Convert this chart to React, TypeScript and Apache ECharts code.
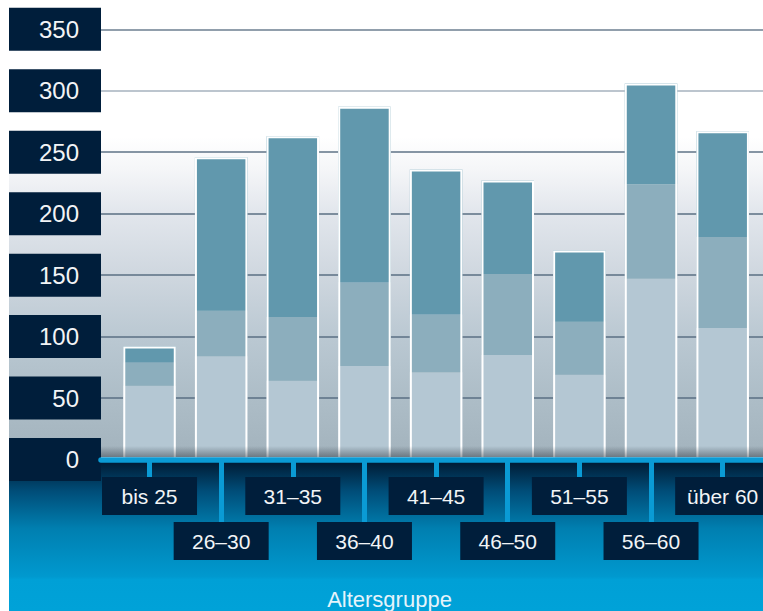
import React, { useEffect, useRef } from "react";
import * as echarts from "echarts";

// Age groups and the three stacked components per group
const categories = ["bis 25", "26–30", "31–35", "36–40", "41–45", "46–50", "51–55", "56–60", "über 60"];
const bottomValues = [60, 84, 64, 76, 71, 85, 69, 147, 107];
const middleValues = [19, 37, 52, 68, 47, 66, 43, 77, 74];
const topValues = [13, 125, 147, 143, 118, 76, 58, 82, 86];
const yTicks = [0, 50, 100, 150, 200, 250, 300, 350];
const axisTitle = "Altersgruppe";

const NAVY = "#001e3b";
const BLUE = "#0a9bd5";
const FONT = "Liberation Sans, Arial, sans-serif";

export default function App() {
  const ref = useRef<HTMLDivElement>(null);

  useEffect(() => {
    if (!ref.current) return;
    const chart = echarts.init(ref.current, undefined, { renderer: "svg" });

    const totals = categories.map((_, i) => bottomValues[i] + middleValues[i] + topValues[i]);
    const yMin = yTicks[0];
    const yMax = yTicks[yTicks.length - 1];
    const step = yTicks[1] - yTicks[0];

    const plotTop = 29.3;
    const plotBottom = 151.5;

    const labelBox = {
      color: "#f2f4f6",
      fontFamily: FONT,
      fontSize: 21,
      backgroundColor: NAVY,
      width: 95,
      height: 38,
      lineHeight: 38,
      align: "center" as const,
    };

    const tickStyle = { color: BLUE, width: 5 };

    const bar = (name: string, data: number[], color: string) => ({
      name,
      type: "bar",
      xAxisIndex: 1,
      yAxisIndex: 1,
      stack: "total",
      barWidth: 52.5,
      data,
      itemStyle: { color },
      z: 2,
    });

    chart.setOption({
      animation: false,
      graphic: [
        {
          type: "rect",
          z: -10,
          shape: { x: 9, y: 0, width: 754, height: 457 },
          style: {
            fill: new echarts.graphic.LinearGradient(0, 0, 0, 1, [
              { offset: 0, color: "#ffffff" },
              { offset: 0.3, color: "#ffffff" },
              { offset: 0.37, color: "#f5f6f8" },
              { offset: 0.46, color: "#e3e7ed" },
              { offset: 0.6, color: "#cfd7df" },
              { offset: 0.74, color: "#bac8d2" },
              { offset: 0.87, color: "#adbdc7" },
              { offset: 1, color: "#a3b3bd" },
            ]),
          },
        },
        {
          type: "rect",
          z: -10,
          shape: { x: 9, y: 461, width: 754, height: 150 },
          style: {
            fill: new echarts.graphic.LinearGradient(0, 0, 0, 1, [
              { offset: 0, color: "#001a33" },
              { offset: 0.2, color: "#004d78" },
              { offset: 0.45, color: "#007fb0" },
              { offset: 0.77, color: "#0099cf" },
              { offset: 0.79, color: "#00a0d6" },
              { offset: 1, color: "#00a2d8" },
            ]),
          },
        },
        {
          type: "rect",
          z: 10,
          silent: true,
          shape: { x: 101, y: 446, width: 662, height: 11 },
          style: {
            fill: new echarts.graphic.LinearGradient(0, 0, 0, 1, [
              { offset: 0, color: "rgba(40,50,60,0)" },
              { offset: 1, color: "rgba(40,50,60,0.45)" },
            ]),
          },
        },
        {
          type: "text",
          z: 10,
          x: 389.5,
          y: 599,
          style: {
            text: axisTitle,
            fill: "#e6f4fb",
            font: `22px ${FONT}`,
            textAlign: "center",
            textVerticalAlign: "middle",
          },
        },
      ],
      grid: [
        { left: 101, right: 0, top: plotTop, bottom: plotBottom, outerBoundsMode: "none" },
        { left: 113.7, right: 4.5, top: plotTop, bottom: plotBottom, outerBoundsMode: "none" },
      ],
      xAxis: [
        {
          gridIndex: 0,
          type: "category",
          data: categories,
          z: 5,
          axisLine: { show: true, lineStyle: { color: BLUE, width: 5.5 } },
          axisTick: { show: false },
          axisLabel: { show: false },
          splitLine: { show: false },
        },
        {
          gridIndex: 1,
          type: "category",
          position: "bottom",
          data: categories,
          z: 5,
          axisLine: { show: false },
          axisTick: {
            show: true,
            alignWithLabel: true,
            length: 17.5,
            interval: (i: number) => i % 2 === 0,
            lineStyle: tickStyle,
          },
          axisLabel: {
            ...labelBox,
            margin: 17.5,
            interval: (i: number) => i % 2 === 0,
          },
        },
        {
          gridIndex: 1,
          type: "category",
          position: "bottom",
          data: categories,
          z: 5,
          axisLine: { show: false },
          axisTick: {
            show: true,
            alignWithLabel: true,
            length: 62.5,
            interval: (i: number) => i % 2 === 1,
            lineStyle: tickStyle,
          },
          axisLabel: {
            ...labelBox,
            margin: 62.5,
            interval: (i: number) => i % 2 === 1,
          },
        },
      ],
      yAxis: [
        {
          gridIndex: 0,
          type: "value",
          min: yMin,
          max: yMax,
          interval: step,
          axisLine: { show: false },
          axisTick: { show: false },
          splitLine: {
            show: true,
            lineStyle: {
              color: ["#5a6f83", "#5a6f83", "#5a6f83", "#5a6f83", "#5a6f83", "#5f7387", "#a6b2be", "#6d7f91"],
              width: 1.5,
            },
          },
          axisLabel: {
            margin: 0,
            color: "#f2f4f6",
            fontFamily: FONT,
            fontSize: 24,
            backgroundColor: NAVY,
            width: 70,
            height: 43,
            lineHeight: 43,
            padding: [0, 22, 0, 0],
            align: "right",
          },
        },
        {
          gridIndex: 1,
          type: "value",
          min: yMin,
          max: yMax,
          interval: step,
          show: false,
        },
      ],
      series: [
        bar("Anteil 1", bottomValues, "#b4c7d3"),
        bar("Anteil 2", middleValues, "#8caebd"),
        bar("Anteil 3", topValues, "#6198ad"),
        {
          name: "Gesamt",
          type: "bar",
          xAxisIndex: 1,
          yAxisIndex: 1,
          barWidth: 52.5,
          barGap: "-100%",
          data: totals,
          silent: true,
          itemStyle: { color: "rgba(0,0,0,0)", borderColor: "#ffffff", borderWidth: 2 },
          z: 3,
        },
      ],
    });

    return () => chart.dispose();
  }, []);

  return (
    <div
      ref={ref}
      style={{ position: "absolute", left: 0, top: 0, width: 763, height: 611 }}
    />
  );
}
